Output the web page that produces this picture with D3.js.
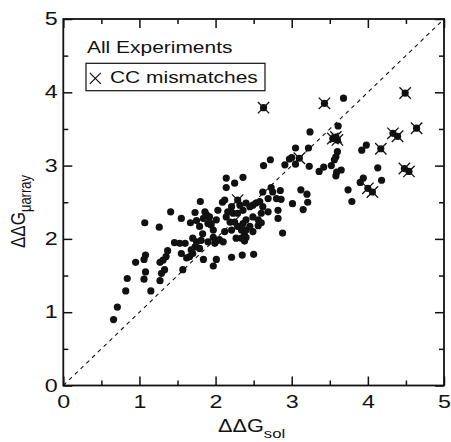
<!DOCTYPE html>
<html>
<head>
<meta charset="utf-8">
<script src="https://cdn.jsdelivr.net/npm/d3@7"></script>
<style>
  html, body { margin: 0; padding: 0; background: #fff; }
  svg { display: block; font-family: "Liberation Sans", Arial, Helvetica, sans-serif; }
</style>
</head>
<body>
<svg id="chart" width="451" height="442"></svg>
<script>
// ---- data (x = ΔΔG_sol, y = ΔΔG_μarray) ----
const allPoints = [
  [0.66,0.90],[0.71,1.07],[0.82,1.29],[0.84,1.46],[0.95,1.68],[1.06,1.72],[1.08,1.78],[1.08,1.55],
  [1.06,1.45],[1.15,1.29],[1.07,2.22],[1.26,2.16],[1.27,1.68],[1.27,1.43],[1.29,1.53],[1.33,1.58],
  [1.31,1.71],[1.35,1.76],[1.37,1.84],[1.41,2.37],[1.46,1.95],
  [1.53,1.94],[1.60,1.94],[1.55,2.28],[1.55,1.80],[1.57,1.58],[1.62,1.74],[1.66,1.76],[1.68,1.85],
  [1.70,1.80],[1.73,1.89],[1.70,2.01],[1.75,1.96],[1.79,1.87],[1.81,1.98],[1.90,1.96],
  [1.67,2.22],[1.75,2.25],[1.79,2.17],[1.84,2.28],[1.88,2.33],[1.90,2.21],[1.94,2.19],[1.97,2.12],
  [1.83,2.07],[2.01,2.26],[1.73,2.36],[1.86,2.37],[1.80,2.51],[2.09,2.50],[2.14,2.70],[2.03,2.39],
  [1.84,1.72],[1.97,1.63],[2.01,1.72],[1.97,2.02],[2.05,1.99],[2.10,1.96],[1.99,1.94],[1.92,2.30],
  [1.94,2.21],
  [2.12,2.53],[2.21,2.44],[2.16,2.37],[2.14,2.30],[2.23,2.35],[2.32,2.46],[2.36,2.39],[2.29,2.35],
  [2.40,2.49],[2.45,2.44],[2.49,2.46],[2.53,2.49],[2.58,2.51],[2.62,2.44],[2.60,2.35],[2.56,2.26],
  [2.49,2.30],[2.40,2.26],[2.36,2.21],[2.29,2.17],[2.34,2.12],[2.40,2.12],[2.45,2.17],[2.49,2.10],
  [2.38,2.05],[2.34,2.01],[2.27,2.01],[2.21,2.12],[2.12,2.10],[2.03,1.98],[2.19,2.23],[2.25,2.23],
  [2.69,2.37],[2.82,2.39],[2.82,2.28],[2.88,2.08],[2.40,2.02],[2.56,2.18],[2.60,2.22],[2.38,1.97],
  [2.62,2.64],[2.73,2.70],[2.75,2.64],[2.85,2.66],[2.69,2.55],[2.80,2.55],[2.86,2.54],
  [2.21,1.75],[2.35,1.78],[2.50,1.79],
  [2.14,2.83],[2.25,2.76],[2.36,2.84],[2.63,3.00],[2.72,3.08],[2.91,3.01],[2.97,3.09],[3.05,3.02],
  [3.68,3.92],[3.61,3.54],[3.24,3.46],[3.05,3.24],[3.22,3.24],[3.00,3.11],[3.23,2.99],[3.36,2.92],
  [3.42,2.98],[3.52,3.00],[3.60,3.19],[3.58,3.12],[3.56,3.08],[3.58,2.86],[3.59,2.91],[3.65,2.94],
  [3.92,3.21],[3.98,3.28],[4.13,2.97],[4.18,2.80],[3.90,2.77],[3.94,2.83],[3.74,2.67],[3.79,2.51],
  [3.12,2.67],[3.20,2.61],[3.21,2.50],[3.15,2.40],[3.01,2.48]
];
// CC mismatches (drawn as a dot with a × on top)
const ccMismatches = [
  [2.63,3.79],[3.43,3.85],[4.49,3.99],[3.54,3.37],[3.60,3.35],[3.58,3.39],[4.33,3.44],[4.39,3.40],
  [4.64,3.51],[4.17,3.23],[3.10,3.10],[4.48,2.96],[4.54,2.92],[4.00,2.69],[4.06,2.64],[2.29,2.53]
];
const majorTicks = [0, 1, 2, 3, 4, 5];
const minorTicks = [0.5, 1.5, 2.5, 3.5, 4.5];
const legendTitle = "All Experiments";
const legendItem = "CC mismatches";

// ---- layout ----
const svg = d3.select("#chart");
const L = 63.3, R = 444, T = 19, B = 385.5;
const x = d3.scaleLinear().domain([0, 5]).range([L, R]);
const y = d3.scaleLinear().domain([0, 5]).range([B, T]);
const FS = 17.5;      // tick label size
const SX = 1.33;      // horizontal stretch of tick labels
const SL = 1.27;      // stretch of legend text
const ST = 1.24;      // stretch of axis titles

// diagonal dashed line
svg.append("line")
  .attr("x1", x(0)).attr("y1", y(0)).attr("x2", x(5)).attr("y2", y(5))
  .attr("stroke", "#111").attr("stroke-width", 1.1).attr("stroke-dasharray", "4,4");

// points
svg.append("g").selectAll("circle").data(allPoints.concat(ccMismatches)).join("circle")
  .attr("cx", d => x(d[0])).attr("cy", d => y(d[1])).attr("r", 3.6).attr("fill", "#111");

// crosses
const cs = 5.7;
const cg = svg.append("g").attr("stroke", "#111").attr("stroke-width", 1.3);
ccMismatches.forEach(d => {
  const cx = x(d[0]), cy = y(d[1]);
  cg.append("line").attr("x1", cx - cs).attr("y1", cy - cs).attr("x2", cx + cs).attr("y2", cy + cs);
  cg.append("line").attr("x1", cx - cs).attr("y1", cy + cs).attr("x2", cx + cs).attr("y2", cy - cs);
});

// axes
function styleAxis(g) {
  g.select(".domain").remove();
  g.selectAll(".tick line").attr("stroke", "#111").attr("stroke-width", 1.5);
  g.selectAll(".tick text").attr("fill", "#111").style("font-size", FS + "px")
    .style("font-family", '"Liberation Sans", Arial, sans-serif');
}
svg.append("g").attr("transform", `translate(0,${B})`)
  .call(d3.axisBottom(x).tickValues(majorTicks).tickSize(-9).tickSizeOuter(0).tickPadding(10.4).tickFormat(d3.format("d")))
  .call(styleAxis)
  .call(g => g.selectAll(".tick text").attr("transform", `scale(${SX},1)`));
svg.append("g").attr("transform", `translate(0,${B})`)
  .call(d3.axisBottom(x).tickValues(minorTicks).tickSize(-5).tickSizeOuter(0).tickFormat(""))
  .call(styleAxis);
svg.append("g").attr("transform", `translate(0,${T})`)
  .call(d3.axisTop(x).tickValues(majorTicks).tickSize(-9).tickSizeOuter(0).tickFormat(""))
  .call(styleAxis);
svg.append("g").attr("transform", `translate(0,${T})`)
  .call(d3.axisTop(x).tickValues(minorTicks).tickSize(-5).tickSizeOuter(0).tickFormat(""))
  .call(styleAxis);
svg.append("g").attr("transform", `translate(${L},0)`)
  .call(d3.axisLeft(y).tickValues(majorTicks).tickSize(-9).tickSizeOuter(0).tickFormat(d3.format("d")))
  .call(styleAxis)
  .call(g => g.selectAll(".tick text").attr("x", -4.2).attr("transform", `scale(${SX},1)`));
svg.append("g").attr("transform", `translate(${L},0)`)
  .call(d3.axisLeft(y).tickValues(minorTicks).tickSize(-5).tickSizeOuter(0).tickFormat(""))
  .call(styleAxis);
svg.append("g").attr("transform", `translate(${R},0)`)
  .call(d3.axisRight(y).tickValues(majorTicks).tickSize(-9).tickSizeOuter(0).tickFormat(""))
  .call(styleAxis);
svg.append("g").attr("transform", `translate(${R},0)`)
  .call(d3.axisRight(y).tickValues(minorTicks).tickSize(-5).tickSizeOuter(0).tickFormat(""))
  .call(styleAxis);

// frame
svg.append("rect").attr("x", L).attr("y", T).attr("width", R - L).attr("height", B - T)
  .attr("fill", "none").attr("stroke", "#111").attr("stroke-width", 1.8);

// axis titles
const xt = svg.append("text").attr("transform", `translate(218,431.5) scale(${ST},1)`)
  .attr("fill", "#111").style("font-size", "17.5px");
xt.append("tspan").text("ΔΔG");
xt.append("tspan").attr("dy", 6).style("font-size", "13.5px").text("sol");

const yt = svg.append("text").attr("transform", `translate(25,248) rotate(-90) scale(1,${ST})`)
  .attr("fill", "#111").style("font-size", "17px");
yt.append("tspan").text("ΔΔG");
yt.append("tspan").attr("dy", 4.5).style("font-size", "13px").text("μarray");

// legend
svg.append("text").attr("transform", `translate(87,53.3) scale(${SL},1)`)
  .attr("fill", "#111").style("font-size", "16.5px").text(legendTitle);
const lg = svg.append("g");
lg.append("rect").attr("x", 86).attr("y", 63.3).attr("width", 179).attr("height", 27.4)
  .attr("fill", "#fff").attr("stroke", "#111").attr("stroke-width", 1.2);
lg.append("g").attr("stroke", "#111").attr("stroke-width", 1.2)
  .call(g => {
    g.append("line").attr("x1", 89.8).attr("y1", 72.8).attr("x2", 100.8).attr("y2", 83.8);
    g.append("line").attr("x1", 89.8).attr("y1", 83.8).attr("x2", 100.8).attr("y2", 72.8);
  });
lg.append("text").attr("transform", `translate(110,83.3) scale(${SL},1)`)
  .attr("fill", "#111").style("font-size", "16.5px").text(legendItem);
</script>
</body>
</html>
